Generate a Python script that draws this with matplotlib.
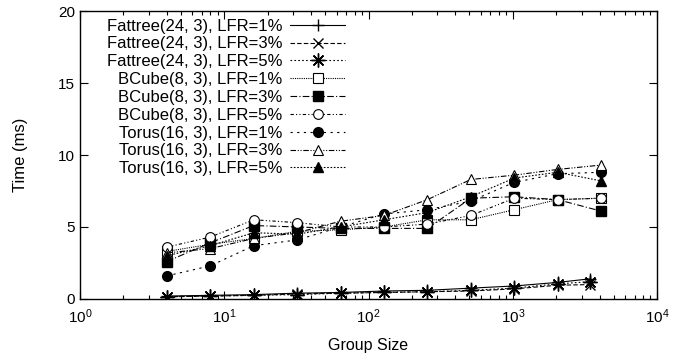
import numpy as np
import matplotlib.pyplot as plt
from matplotlib.ticker import LogLocator, NullFormatter

plt.rcParams['font.family'] = ['Liberation Sans', 'DejaVu Sans']
plt.rcParams['mathtext.fontset'] = 'custom'
plt.rcParams['mathtext.rm'] = 'Liberation Sans'
plt.rcParams['mathtext.it'] = 'Liberation Sans'

# group sizes
x_fat = [4, 8, 16, 32, 64, 128, 256, 512, 1024, 2048, 3456]
x_other = [4, 8, 16, 32, 64, 128, 256, 512, 1024, 2048, 4096]

# times (ms)
fat_1 = [0.2, 0.25, 0.3, 0.4, 0.45, 0.55, 0.6, 0.75, 0.9, 1.15, 1.4]
fat_3 = [0.15, 0.2, 0.25, 0.35, 0.4, 0.45, 0.5, 0.55, 0.7, 0.95, 1.0]
fat_5 = [0.15, 0.2, 0.25, 0.3, 0.4, 0.45, 0.5, 0.6, 0.75, 1.05, 1.2]
bcube_1 = [3.3, 3.8, 4.2, 4.7, 4.8, 5.0, 5.5, 5.5, 6.2, 6.9, 7.0]
bcube_3 = [2.6, 3.9, 5.1, 5.0, 4.9, 4.9, 4.9, 7.0, 7.1, 6.9, 6.1]
bcube_5 = [3.6, 4.3, 5.5, 5.3, 5.0, 5.0, 5.2, 5.8, 7.0, 6.9, 7.0]
torus_1 = [1.6, 2.3, 3.7, 4.1, 5.0, 5.9, 6.2, 6.8, 8.1, 8.7, 8.8]
torus_3 = [3.2, 3.5, 4.2, 4.6, 5.4, 5.8, 6.9, 8.3, 8.6, 9.0, 9.3]
torus_5 = [3.0, 3.7, 4.6, 4.5, 5.0, 5.5, 6.0, 7.1, 8.4, 8.8, 8.2]

labels = ['Fattree(24, 3), LFR=1%', 'Fattree(24, 3), LFR=3%', 'Fattree(24, 3), LFR=5%',
          'BCube(8, 3), LFR=1%', 'BCube(8, 3), LFR=3%', 'BCube(8, 3), LFR=5%',
          'Torus(16, 3), LFR=1%', 'Torus(16, 3), LFR=3%', 'Torus(16, 3), LFR=5%']

fig = plt.figure(figsize=(6.96, 3.58), dpi=100)
ax = fig.add_axes([0.115, 0.165, 0.829, 0.804])

lw = 0.8
ax.plot(x_fat, fat_1, color='black', lw=lw, ls='-', marker='+', ms=9, mew=1.0, label=labels[0])
ax.plot(x_fat, fat_3, color='black', lw=lw, ls=(0, (4, 2)), marker='x', ms=7, mew=1.0, label=labels[1])
ax.plot(x_fat, fat_5, color='black', lw=lw, ls=(0, (1.5, 2)), marker=(8, 2, 0), ms=10, mew=1.0, label=labels[2])
ax.plot(x_other, bcube_1, color='black', lw=lw, ls=(0, (1, 1)), marker='s', ms=7, mfc='white', mew=0.8, label=labels[3])
ax.plot(x_other, bcube_3, color='black', lw=lw, ls=(0, (6, 2, 1, 2)), marker='s', ms=7.5, mfc='black', label=labels[4])
ax.plot(x_other, bcube_5, color='black', lw=lw, ls=(0, (3, 2, 1, 2, 1, 2)), marker='o', ms=7, mfc='white', mew=0.8, label=labels[5])
ax.plot(x_other, torus_1, color='black', lw=lw, ls=(0, (2, 4)), marker='o', ms=7, mfc='black', label=labels[6])
ax.plot(x_other, torus_3, color='black', lw=lw, ls=(0, (5, 1.5, 1, 1.5, 1, 1.5)), marker='^', ms=7, mfc='white', mew=0.8, label=labels[7])
ax.plot(x_other, torus_5, color='black', lw=lw, ls=(0, (1.5, 1.5)), marker='^', ms=7, mfc='black', label=labels[8])

ax.set_xscale('log')
ax.set_xlim(1, 1e4)
ax.set_ylim(0, 20)
ax.set_yticks([0, 5, 10, 15, 20])
ax.xaxis.set_major_locator(LogLocator(base=10, numticks=10))
ax.xaxis.set_minor_locator(LogLocator(base=10, subs=np.arange(2, 10), numticks=20))
ax.xaxis.set_minor_formatter(NullFormatter())
ax.tick_params(which='both', direction='in', top=True, right=True, labelsize=11, width=0.8)
ax.tick_params(which='major', length=6)
ax.tick_params(which='minor', length=3)
ax.tick_params(axis='x', pad=6)
for s in ax.spines.values():
    s.set_linewidth(1.0)

ax.set_xlabel('Group Size', fontsize=11.5, labelpad=9)
ax.set_ylabel('Time (ms)', fontsize=12, labelpad=22)

ax.legend(loc='upper right', bbox_to_anchor=(0.473, 1.0), frameon=False, markerfirst=False,
          fontsize=12, handlelength=3.3, labelspacing=0.17, handletextpad=0.5,
          borderpad=0.45, borderaxespad=0.0, ncol=1)
leg = ax.get_legend()
for t in leg.get_texts():
    t.set_ha('right')
leg._legend_box.align = 'right'

fig.savefig('out.png', dpi=100)
